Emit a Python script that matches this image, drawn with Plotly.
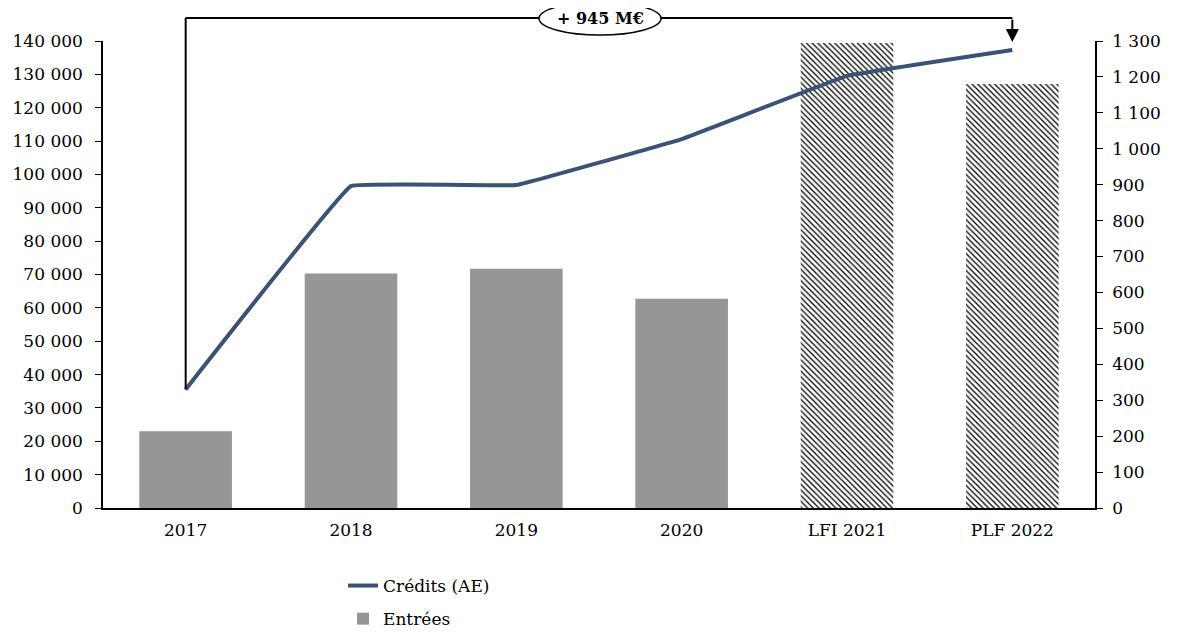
import plotly.graph_objects as go

categories = ["2017", "2018", "2019", "2020", "LFI 2021", "PLF 2022"]
entrees = [23000, 70300, 71700, 62700, 139400, 127100]
credits_ae = [330, 896, 899, 1027, 1203, 1275]
hatched = [False, False, False, False, True, True]

FONT = "DejaVu Serif"
OFF = 8  # page body offset
W, H = 1180, 643
# target plot area in screenshot pixels: left 103, right 1095, top 41, bottom 508
ml, mr, mt, mb = 103 - OFF, W - (1095 - OFF), 41 - OFF, H - (508 - OFF)
pw, ph = W - ml - mr, H - mt - mb

def py2paper(py):  # screenshot pixel -> paper
    return (508 - py) / ph

def px2paper(px):
    return (px - 103) / pw

solid_vals = [v if not h else None for v, h in zip(entrees, hatched)]
hatch_vals = [v if h else None for v, h in zip(entrees, hatched)]

fig = go.Figure()
fig.add_trace(go.Scatter(
    x=categories, y=credits_ae, name="Crédits (AE)", yaxis="y2", legendgroup="a",
    mode="lines", line=dict(color="#3B5274", width=4, shape="spline", smoothing=0.15),
))
fig.add_trace(go.Bar(
    x=categories, y=solid_vals, name="Entrées", yaxis="y", legendgroup="b",
    width=0.56, marker=dict(color="#969696", line=dict(width=0)),
))
fig.add_trace(go.Bar(
    x=categories, y=hatch_vals, name="Entrées", yaxis="y", legendgroup="b", showlegend=False,
    width=0.56,
    marker=dict(
        color="black", line=dict(width=0),
        pattern=dict(shape="\\", fgcolor="black", bgcolor="white", size=4, solidity=0.32,
                     fillmode="replace"),
    ),
))

top_y = py2paper(18)
delta = credits_ae[-1] - credits_ae[0]
fig.add_shape(type="line", xref="x", yref="paper", x0=0, x1=0,
              y0=credits_ae[0] / 1300, y1=top_y, line=dict(color="black", width=2))
fig.add_shape(type="line", xref="x", yref="paper", x0=0, x1=len(categories) - 1,
              y0=top_y, y1=top_y, line=dict(color="black", width=2))
fig.add_shape(type="circle", xref="paper", yref="paper",
              x0=px2paper(539), x1=px2paper(661),
              y0=py2paper(35), y1=py2paper(2),
              fillcolor="white", line=dict(color="black", width=1.5), layer="above")
fig.add_annotation(x=len(categories) - 1, xref="x", y=py2paper(42), yref="paper",
                   ax=0, ay=-24, axref="pixel", ayref="pixel", text="",
                   showarrow=True, arrowhead=2, arrowsize=1.3, arrowwidth=2, arrowcolor="black")
fig.add_annotation(x=px2paper(600), y=top_y, xref="paper", yref="paper",
                   xanchor="center", yanchor="middle",
                   text=f"<b>+ {delta} M€</b>", showarrow=False,
                   font=dict(family=FONT, size=16, color="black"))

fig.update_layout(
    width=W, height=H,
    margin=dict(l=ml, r=mr, t=mt, b=mb, autoexpand=False),
    paper_bgcolor="white", plot_bgcolor="white",
    font=dict(family=FONT, size=17, color="black"),
    separators=", ",
    showlegend=True,
    barmode="overlay",
    legend=dict(x=px2paper(343), y=py2paper(568), xanchor="left", yanchor="top",
                orientation="v", traceorder="grouped", font=dict(family=FONT, size=17),
                tracegroupgap=8),
    xaxis=dict(type="category", showline=True, linecolor="black", linewidth=1.5,
               ticks="", showgrid=False, tickfont=dict(size=17), range=[-0.5, 5.5],
               ticklabelstandoff=6),
    yaxis=dict(range=[0, 140000], dtick=10000, tickformat=",d", showline=True,
               linecolor="black", linewidth=1.5, ticks="outside", ticklen=6,
               tickcolor="black", showgrid=False, zeroline=False, tickfont=dict(size=17),
               ticklabelstandoff=9),
    yaxis2=dict(range=[0, 1300], dtick=100, tickformat=",d", overlaying="y", side="right",
                showline=True, linecolor="black", linewidth=1.5, ticks="outside", ticklen=6,
                tickcolor="black", showgrid=False, zeroline=False, tickfont=dict(size=17),
                ticklabelstandoff=6),
)

fig.write_html("out.html")
